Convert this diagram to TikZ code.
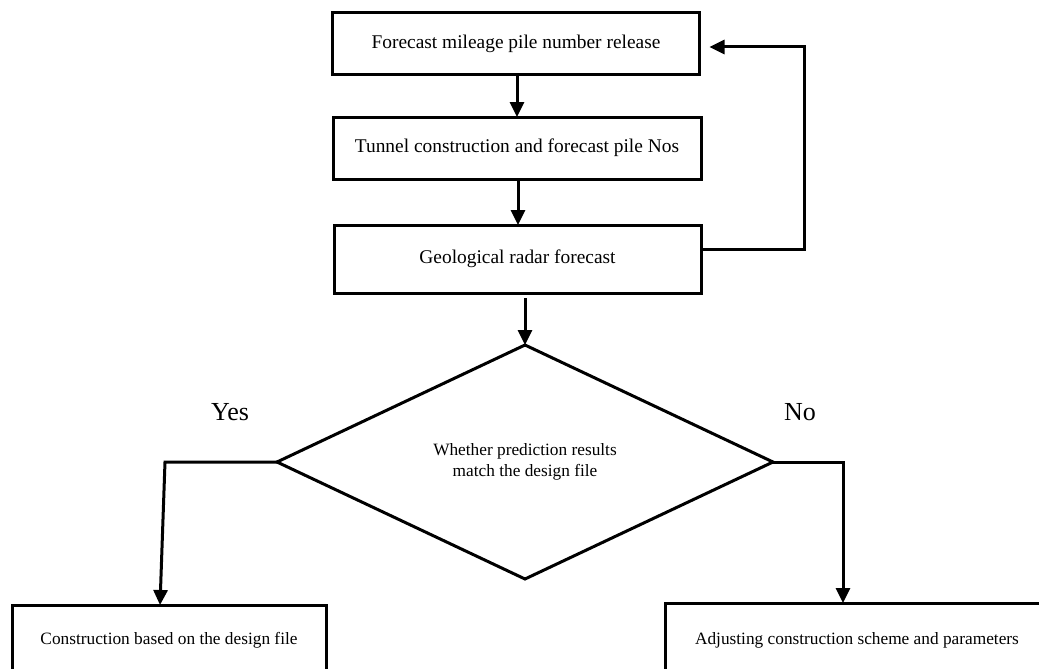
\documentclass[tikz,border=0pt]{standalone}
\usepackage{fontspec}
\setmainfont{Liberation Serif}
\usetikzlibrary{shapes.geometric,arrows.meta}
\begin{document}
\begin{tikzpicture}[x=1pt,y=-1pt,
  every node/.style={inner sep=0pt,outer sep=0pt},
  stepbox/.style={draw,line width=3pt,rectangle,align=center,font=\fontsize{19.4}{23}\selectfont},
  endbox/.style={draw,line width=3pt,rectangle,align=center,font=\fontsize{17.3}{21}\selectfont},
  decision/.style={draw,line width=3pt,diamond,align=center,font=\fontsize{17.3}{21}\selectfont},
  branch/.style={font=\fontsize{26}{30}\selectfont},
  flow/.style={line width=3pt,-{Triangle[length=15pt,width=14pt]}},
  plain/.style={line width=3pt}]
\clip (0,0) rectangle (1039,669);
\useasboundingbox (0,0) rectangle (1039,669);
\node[stepbox,minimum width=367pt,minimum height=62pt] (b1) at (516,44) {Forecast mileage pile number release};
\node[stepbox,minimum width=368pt,minimum height=62pt] (b2) at (517,148) {Tunnel construction and forecast pile Nos};
\node[stepbox,minimum width=367pt,minimum height=68pt] (b3) at (517.5,259) {Geological radar forecast};
\node[decision,minimum width=496pt,minimum height=234pt] (d) at (525,462) {Whether prediction results\\match the design file};
\node[endbox,minimum width=314pt,minimum height=70pt] (yb) at (169,640) {Construction based on the design file};
\node[endbox,minimum width=384pt,minimum height=74pt] (nb) at (857,640) {Adjusting construction scheme and parameters};
\node[branch] (yes) at (230,412) {Yes};
\node[branch] (no) at (800,412) {No};
\coordinate (fbR) at (804,249);
\coordinate (yc) at (165,462);
\coordinate (nc) at (843,462);
\draw[flow] (b1.south -| 517,0) -- (b2.north -| 517,0);
\draw[flow] (b2.south -| 518,0) -- (b3.north -| 518,0);
\draw[flow,shorten <=5pt] (b3.south -| d.north) -- (d.north);
\draw[flow] ([yshift=10pt]b3.east) -- ([yshift=10pt]b3.east -| fbR) -- (fbR |- 0,47) -- ([xshift=10pt]b1.east |- 0,47);
\draw[flow] (d.west) -- (yc) -- (160,0 |- yb.north);
\draw[flow] (d.east) -- (nc) -- (nc |- nb.north);
\end{tikzpicture}
\end{document}
